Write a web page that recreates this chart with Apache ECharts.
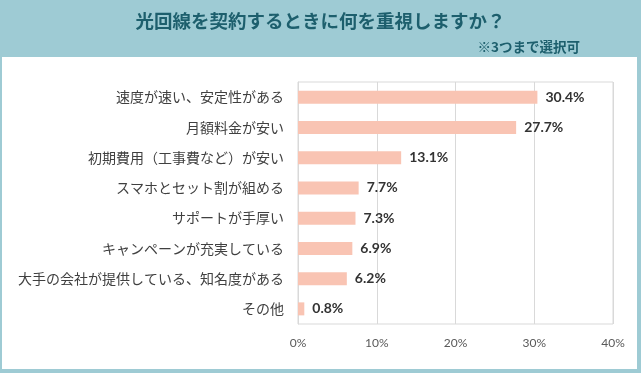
<!DOCTYPE html>
<html><head><meta charset="utf-8">
<script src="https://cdn.jsdelivr.net/npm/echarts@6/dist/echarts.min.js"></script>
<style>html,body{margin:0;padding:0;background:#9ecbd4;}#c{width:641px;height:373px;}</style>
</head><body><div id="c"></div>
<script>
const categories = ["速度が速い、安定性がある","月額料金が安い","初期費用（工事費など）が安い","スマホとセット割が組める","サポートが手厚い","キャンペーンが充実している","大手の会社が提供している、知名度がある","その他"];
const values = [30.4, 27.7, 13.1, 7.7, 7.3, 6.9, 6.2, 0.8];
const xTicks = [0, 10, 20, 30, 40];

const chart = echarts.init(document.getElementById('c'));
const font = '"Noto Sans CJK JP","Noto Sans",sans-serif';
chart.setOption({
  backgroundColor: '#9ecbd4',
  animation: false,
  graphic: [{
    type: 'rect', shape: {x: 2, y: 57, width: 635, height: 312},
    style: {fill: '#ffffff'}, z: -10
  }],
  title: [{
    text: '光回線を契約するときに何を重視しますか？',
    left: 'center', top: 7,
    textStyle: {fontFamily: font, fontSize: 18.5, fontWeight: 'bold', color: '#1d5f6d'}
  }, {
    text: '※3つまで選択可',
    right: 56, top: 35,
    textStyle: {fontFamily: font, fontSize: 13.5, fontWeight: 'bold', color: '#1d5f6d'}
  }],
  grid: {left: 298, right: 28, top: 82, bottom: 49, show: true, borderColor: '#d9d9d9', borderWidth: 1},
  xAxis: {
    type: 'value', min: 0, max: 40, interval: 10,
    axisLine: {show: false}, axisTick: {show: false},
    splitLine: {lineStyle: {color: '#d9d9d9'}},
    axisLabel: {formatter: v => xTicks.includes(v) ? v + '%' : '', color: '#595959', fontSize: 12, margin: 13, fontFamily: 'Lato, sans-serif'}
  },
  yAxis: {
    type: 'category', data: categories, inverse: true,
    axisLine: {show: true, lineStyle: {color: '#d9d9d9'}}, axisTick: {show: false},
    axisLabel: {color: '#404040', fontSize: 14, margin: 14, fontFamily: font}
  },
  series: [{
    type: 'bar', data: values, barWidth: 13,
    itemStyle: {color: '#f9c4b3'},
    label: {show: true, position: 'right', distance: 8, formatter: p => p.value.toFixed(1) + '%',
      color: '#333333', fontSize: 14, fontWeight: 'bold', fontFamily: 'Lato, sans-serif'}
  }]
});
</script></body></html>
